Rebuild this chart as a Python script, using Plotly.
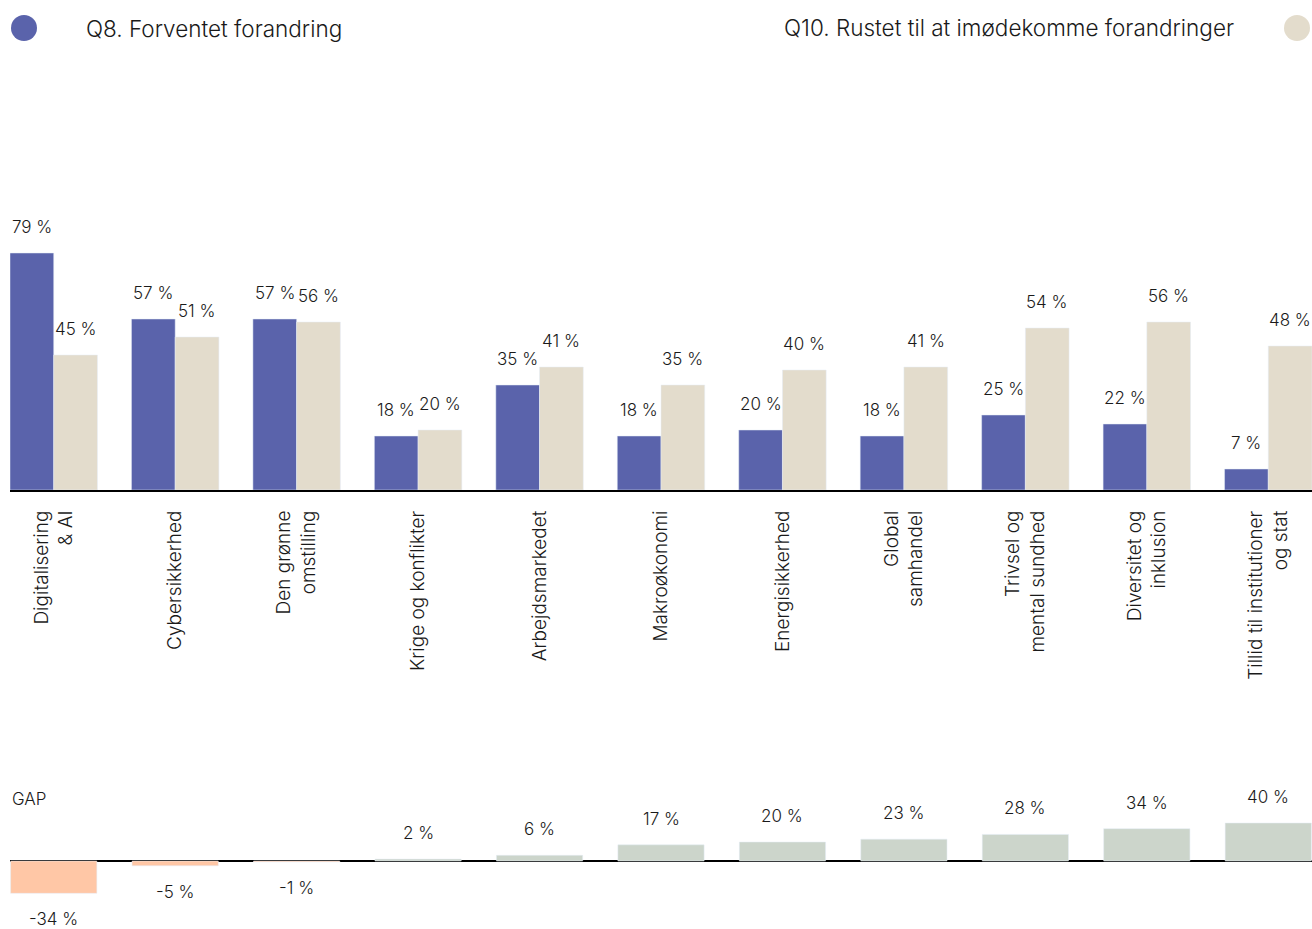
import plotly.graph_objects as go

categories = [
    "Digitalisering<br>& AI", "Cybersikkerhed", "Den grønne<br>omstilling",
    "Krige og konflikter", "Arbejdsmarkedet", "Makroøkonomi",
    "Energisikkerhed", "Global<br>samhandel", "Trivsel og<br>mental sundhed",
    "Diversitet og<br>inklusion", "Tillid til institutioner<br>og stat",
]
q8_values = [79, 57, 57, 18, 35, 18, 20, 18, 25, 22, 7]
q10_values = [45, 51, 56, 20, 41, 35, 40, 41, 54, 56, 48]
gap_values = [-34, -5, -1, 2, 6, 17, 20, 23, 28, 34, 40]

BLUE = "#5a63ab"
BEIGE = "#e3dccc"
NEG = "#ffc7a6"
POS = "#ccd5cb"
TEXT = "#1a1a1a"
FONT = "Inter"

W, H = 1312, 929
L = 10
x = list(range(len(categories)))

fig = go.Figure()

fig.add_trace(go.Bar(x=x, y=q8_values, marker_color=BLUE, name="Q8",
                     xaxis="x", yaxis="y", showlegend=False, hoverinfo="skip"))
fig.add_trace(go.Bar(x=x, y=q10_values, marker_color=BEIGE, name="Q10",
                     xaxis="x", yaxis="y", showlegend=False, hoverinfo="skip"))
fig.add_trace(go.Bar(x=x, y=gap_values, width=0.71,
                     marker_color=[NEG if v < 0 else POS for v in gap_values],
                     xaxis="x2", yaxis="y2", showlegend=False, hoverinfo="skip"))

annotations = []
label_font = dict(family=FONT, size=17, color=TEXT, weight=300)
for i in x:
    annotations.append(dict(x=i - 0.18, y=q8_values[i], xref="x", yref="y",
                            text=f"{q8_values[i]} %", showarrow=False,
                            yanchor="middle", yshift=26, font=label_font))
    annotations.append(dict(x=i + 0.18, y=q10_values[i], xref="x", yref="y",
                            text=f"{q10_values[i]} %", showarrow=False,
                            yanchor="middle", yshift=26, font=label_font))
    g = gap_values[i]
    annotations.append(dict(x=i, y=g, xref="x2", yref="y2",
                            text=f"{g} %", showarrow=False, yanchor="middle",
                            yshift=26 if g >= 0 else -26, font=label_font))


# screen pixel -> paper coords
def px(v):
    return (v - L) / (W - L)


def py(v):
    return (H - v) / H


annotations += [
    dict(x=px(84), y=py(29), xref="paper", yref="paper", xanchor="left",
         yanchor="middle", text="Q8. Forventet forandring", showarrow=False,
         font=dict(family=FONT, size=22.5, color=TEXT, weight=300)),
    dict(x=px(1236), y=py(28), xref="paper", yref="paper", xanchor="right",
         yanchor="middle", text="Q10. Rustet til at imødekomme forandringer",
         showarrow=False, font=dict(family=FONT, size=22.5, color=TEXT, weight=300)),
    dict(x=px(10), y=py(799), xref="paper", yref="paper", xanchor="left",
         yanchor="middle", text="GAP", showarrow=False,
         font=dict(family=FONT, size=17, color=TEXT, weight=300)),
]

shapes = [
    dict(type="circle", xref="paper", yref="paper", x0=px(11), x1=px(37),
         y0=py(41), y1=py(15), fillcolor=BLUE, line_width=0),
    dict(type="circle", xref="paper", yref="paper", x0=px(1284), x1=px(1310),
         y0=py(41), y1=py(15), fillcolor=BEIGE, line_width=0),
]

fig.update_layout(
    width=W, height=H,
    margin=dict(l=L, r=0, t=0, b=0),
    paper_bgcolor="white", plot_bgcolor="white",
    barmode="group", bargap=0.28, bargroupgap=0,
    annotations=annotations, shapes=shapes,
    xaxis=dict(range=[-0.36, 10.36], tickvals=x, ticktext=categories,
               tickangle=-90, showgrid=False, zeroline=False,
               showline=True, linecolor="black", linewidth=2,
               ticks="", ticklabelstandoff=11,
               tickfont=dict(family=FONT, size=19, color=TEXT, weight=300),
               domain=[0, 1], anchor="y", fixedrange=True),
    yaxis=dict(range=[0, 100], domain=[py(490), py(190)], visible=False,
               anchor="x", fixedrange=True),
    xaxis2=dict(range=[-0.36, 10.36], showticklabels=False, showgrid=False,
                zeroline=False, showline=False, ticks="", anchor="y2",
                domain=[0, 1], fixedrange=True),
    yaxis2=dict(range=[-45, 55], domain=[py(903.75), py(808.75)],
                showticklabels=False, showgrid=False, zeroline=True,
                zerolinecolor="black", zerolinewidth=1.5, ticks="",
                anchor="x2", fixedrange=True),
)

# drop the default body margin so the figure fills the window exactly
fig.write_html(
    "out.html",
    config=dict(displayModeBar=False),
    post_script="document.body.style.margin='0';document.body.style.overflow='hidden';",
)
